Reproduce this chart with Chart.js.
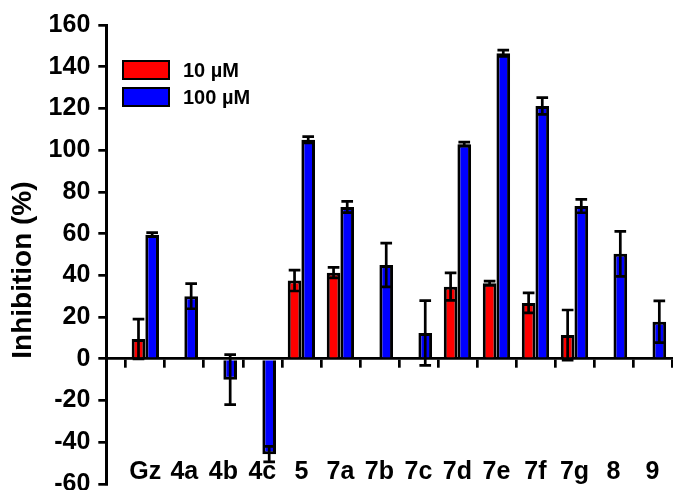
<!DOCTYPE html>
<html>
<head>
<meta charset="utf-8">
<script src="https://cdn.jsdelivr.net/npm/chart.js@4"></script>
<style>
    body { margin: 0; background: #fff; }
    #wrap { position: relative; width: 673px; height: 490px; }
    #legenda { position: absolute; left: 122px; top: 60px; font: bold 20px "Liberation Sans", Arial, sans-serif; }
    #legenda .item { display: flex; align-items: center; height: 20px; margin-bottom: 7px; }
    #legenda .caixa { width: 48px; height: 20px; box-sizing: border-box; border: 2.5px solid #000; margin-right: 13px; }
</style>
</head>
<body>
<div id="wrap">
    <canvas id="grafico" width="673" height="490"></canvas>
    <div id="legenda"></div>
</div>
<script>
    'use strict';

    // Dados
    const categorias = ['Gz', '4a', '4b', '4c', '5', '7a', '7b', '7c', '7d', '7e', '7f', '7g', '8', '9'];
    const valores10 = [9.5, null, null, null, 37.5, 41.3, null, null, 34.6, 36.2, 26.8, 11.4, null, null];
    const erros10 = [9.5, 0, 0, 0, 5, 2.5, 0, 0, 6.6, 1, 4.8, 12, 0, 0];
    const valores100 = [59.5, 30, -10, -45.7, 105, 72.8, 45, 12.4, 102.9, 146.5, 121.2, 73.2, 50.3, 17.8];
    const erros100 = [1, 6, 12, 3.7, 1.5, 2.7, 10.5, 15.5, 1, 1.5, 4, 3.2, 10.8, 10];
    const ticksY = [-60, -40, -20, 0, 20, 40, 60, 80, 100, 120, 140, 160];

    const fonte = 'Liberation Sans, Arial, sans-serif';
    const indices = categorias.map((c, i) => i);
    const limites = categorias.map((c, i) => i - 0.5).concat([categorias.length - 0.5]);

    // Desenha as barras de erro (para cima e para baixo, com traço)
    const barrasErro = {
        id: 'barrasErro',
        afterDatasetsDraw: function(chart) {
            const ctx = chart.ctx;
            const y = chart.scales.y;
            ctx.save();
            ctx.strokeStyle = '#000';
            ctx.lineWidth = 2.7;
            chart.data.datasets.forEach((ds, i) => {
                chart.getDatasetMeta(i).data.forEach((bar, j) => {
                    const v = ds.data[j];
                    if (v === null) return;
                    const e = ds.erros[j];
                    const topo = y.getPixelForValue(v + e);
                    const base = y.getPixelForValue(v - e);
                    const meia = bar.width / 2 - 1;
                    ctx.beginPath();
                    ctx.moveTo(bar.x, topo);
                    ctx.lineTo(bar.x, base);
                    ctx.moveTo(bar.x - meia, topo);
                    ctx.lineTo(bar.x + meia, topo);
                    ctx.moveTo(bar.x - meia, base);
                    ctx.lineTo(bar.x + meia, base);
                    ctx.stroke();
                });
            });
            ctx.restore();
        }
    };

    const grafico = new Chart(document.getElementById('grafico'), {
        type: 'bar',
        data: {
            labels: indices,
            datasets: [
                {
                    label: '10 \u00b5M',
                    data: valores10,
                    erros: erros10,
                    backgroundColor: '#FF0000',
                    borderColor: '#000',
                    borderWidth: 3
                },
                {
                    label: '100 \u00b5M',
                    data: valores100,
                    erros: erros100,
                    backgroundColor: '#0000FF',
                    borderColor: '#000',
                    borderWidth: 3
                }
            ]
        },
        options: {
            responsive: false,
            animation: false,
            categoryPercentage: 0.7,
            barPercentage: 1,
            layout: { padding: { left: 2, top: 25, right: 1, bottom: 6 } },
            plugins: {
                legend: { display: false },
                tooltip: { enabled: false }
            },
            scales: {
                x: {
                    type: 'linear',
                    min: -1,
                    max: categorias.length - 0.5,
                    offset: false,
                    position: { y: 0 },
                    afterBuildTicks: (s) => { s.ticks = limites.map(v => ({ value: v })); },
                    ticks: { display: false },
                    grid: { offset: false, drawOnChartArea: false, drawTicks: true, tickLength: 8, color: '#000', lineWidth: 2.7 },
                    border: { color: '#000', width: 2.7 }
                },
                rotulos: {
                    type: 'linear',
                    axis: 'x',
                    min: -1,
                    max: categorias.length - 0.5,
                    offset: false,
                    position: { y: -45 },
                    afterBuildTicks: (s) => { s.ticks = indices.map(v => ({ value: v })); },
                    ticks: {
                        autoSkip: false,
                        maxRotation: 0,
                        padding: 4,
                        color: '#000',
                        font: { family: fonte, size: 25, weight: 'bold' },
                        callback: (v) => categorias[v]
                    },
                    grid: { display: false, offset: false, drawTicks: false },
                    border: { display: false }
                },
                y: {
                    min: -60,
                    max: 160,
                    afterBuildTicks: (s) => { s.ticks = ticksY.map(v => ({ value: v })); },
                    afterFit: (s) => { s.paddingTop = 0; s.paddingBottom = 0; },
                    ticks: {
                        padding: 8,
                        color: '#000',
                        font: { family: fonte, size: 25, weight: 'bold' }
                    },
                    grid: { drawOnChartArea: false, drawTicks: true, tickLength: 8, color: '#000', lineWidth: 2.7 },
                    border: { color: '#000', width: 3 },
                    title: {
                        display: true,
                        text: 'Inhibition (%)    ',
                        color: '#000',
                        padding: { top: 4, bottom: 1 },
                        font: { family: fonte, size: 28, weight: 'bold' }
                    }
                }
            }
        },
        plugins: [barrasErro]
    });

    // Legenda em HTML gerada a partir dos datasets
    const legenda = document.getElementById('legenda');
    grafico.data.datasets.forEach((ds) => {
        const item = document.createElement('div');
        item.className = 'item';
        const caixa = document.createElement('span');
        caixa.className = 'caixa';
        caixa.style.background = ds.backgroundColor;
        const texto = document.createElement('span');
        texto.textContent = ds.label;
        item.appendChild(caixa);
        item.appendChild(texto);
        legenda.appendChild(item);
    });
</script>
</body>
</html>
